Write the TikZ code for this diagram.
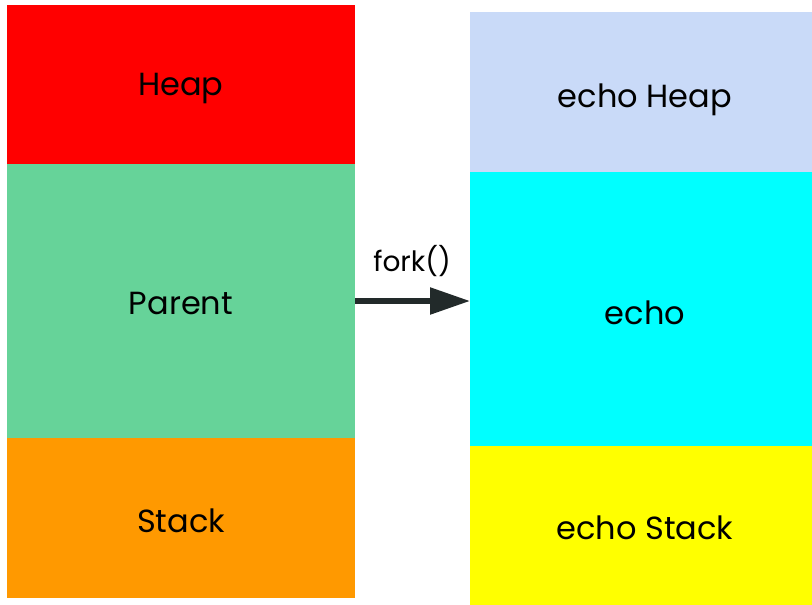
\documentclass[tikz,border=0pt]{standalone}
\usepackage{fontspec}
\setmainfont{Poppins}
\usetikzlibrary{arrows.meta}
\definecolor{heapred}{HTML}{FF0000}
\definecolor{parentgreen}{HTML}{66D399}
\definecolor{stackorange}{HTML}{FF9900}
\definecolor{echoheap}{HTML}{C9DAF8}
\definecolor{echocyan}{HTML}{00FFFF}
\definecolor{echoyellow}{HTML}{FFFF00}
\definecolor{arrowdark}{HTML}{222A2A}
\begin{document}
\begin{tikzpicture}[x=1pt,y=-1pt,
  lbl/.style={anchor=base, font=\fontsize{32}{37}\selectfont, text=black},
  forklbl/.style={anchor=base, font=\fontsize{28}{33}\selectfont, text=black},
  forkarrow/.style={draw=arrowdark, line width=5.5pt,
    -{Triangle[length=40pt,width=26pt]}}]
\useasboundingbox (0,0) rectangle (812,605);
% parent process memory
\fill[heapred] (7,5) rectangle (355,164);
\fill[parentgreen] (7,164) rectangle (355,438);
\fill[stackorange] (7,438) rectangle (355,598);
% child process memory
\fill[echoheap] (470,12) rectangle (812,172);
\fill[echocyan] (470,172) rectangle (812,446);
\fill[echoyellow] (470,446) rectangle (812,605);
% labels
\node[lbl] (heap) at (181,95) {Heap};
\node[lbl] (parent) at (181,314) {Parent};
\node[lbl] (stack) at (181,532) {Stack};
\node[lbl] (eheap) at (645,107) {echo Heap};
\node[lbl] (echo) at (645,324) {echo};
\node[lbl] (estack) at (645,539) {echo Stack};
\node[forklbl] (fork) at (412,271) {fork()};
% fork arrow between the two blocks
\coordinate (src) at (355,301);
\coordinate (dst) at (470,301);
\draw[forkarrow] (src) -- (dst);
\end{tikzpicture}
\end{document}
